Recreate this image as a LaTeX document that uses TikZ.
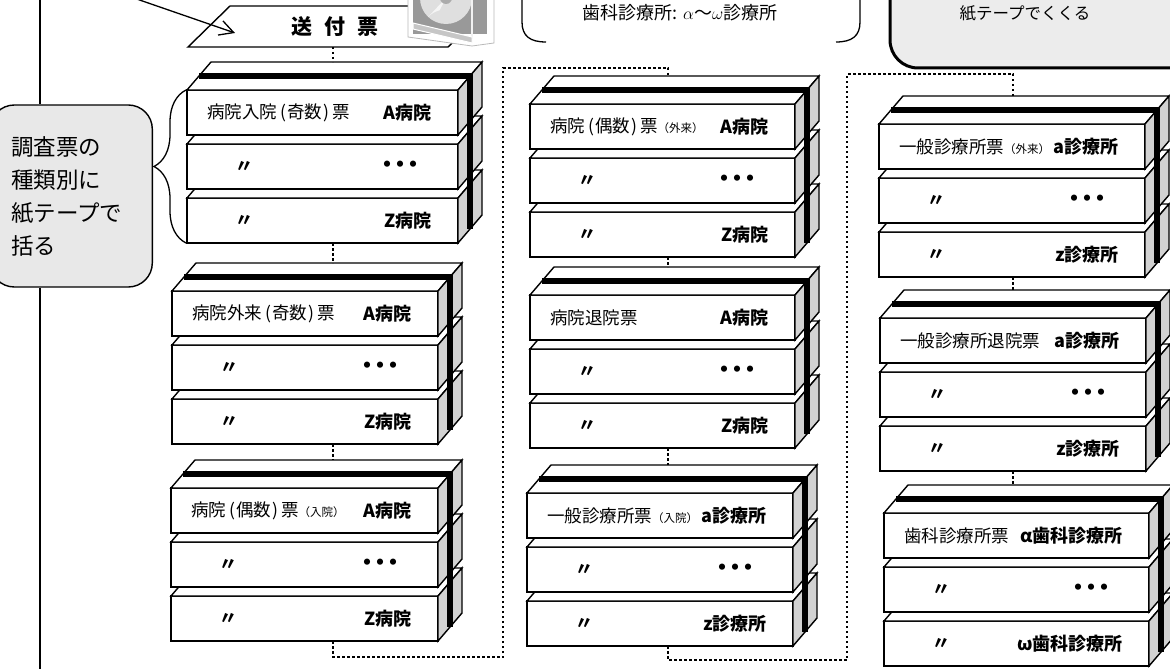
\documentclass[tikz,border=0pt]{standalone}
\usepackage{fontspec}
\setmainfont{Noto Sans CJK JP}
\usetikzlibrary{arrows.meta,decorations.pathreplacing}

\tikzset{
  slabfront/.style={draw, line width=1.4pt, fill=white, minimum height=45pt, inner sep=0pt, outer sep=0pt},
  slabtop/.style={draw, line width=1.4pt, fill=white},
  slabside/.style={draw, line width=1.4pt, fill=gray!35},
  tape/.style={line width=5.5pt},
  sheet/.style={font=\fontsize{17.5}{19}\selectfont, inner sep=0pt},
  hospital/.style={inner sep=0pt, font=\fontsize{18}{19}\selectfont\bfseries},
  hop/.style={line width=2.5pt, dash pattern=on 2.5pt off 2.5pt},
  note/.style={draw, line width=1.4pt, fill=gray!18, rounded corners=24pt},
}

% round brackets inside a sheet name
\newcommand{\br}[1]{\kern3pt(\kern1pt#1\kern1pt)\kern3pt}
% smaller text in brackets after a sheet name
\newcommand{\smallnote}[1]{{\fontsize{11.5}{13}\selectfont （#1）}}

% one slab of a bundle: front face, top face, side face
\newcommand{\slab}[4]{%
  \node[slabfront, minimum width=#4pt, anchor=north west] (#1) at (#2,#3) {};
  \draw[slabtop] (#1.north west) -- ++(24,-28) -- ([shift={(24,-28)}]#1.north east) -- (#1.north east) -- cycle;
  \draw[slabside] (#1.north east) -- ++(24,-28) -- ([shift={(24,-28)}]#1.south east) -- (#1.south east) -- cycle;
}

% three slabs tied with paper tape
% #1 name, #2 left x, #3 top y, #4 width, #5 sheet, #6 first, #7 last
\newcommand{\bundle}[7]{%
  \slab{#1-3}{#2}{#3+108}{#4}
  \slab{#1-2}{#2}{#3+54}{#4}
  \slab{#1-1}{#2}{#3}{#4}
  \draw[tape] ([shift={(12,-14)}]#1-1.north west) -- ([shift={(12,-14)}]#1-1.north east) -- ([shift={(12,-14)}]#1-3.south east);
  \node[sheet, anchor=west] (#1-kind) at ([xshift=20pt]#1-1.west) {#5};
  \node[hospital, anchor=east] (#1-first) at ([xshift=-26pt]#1-1.east) {#6};
  \node[hospital] (#1-same2) at ([xshift=57pt]#1-2.west) {〃};
  \node[hospital] (#1-dots) at ([xshift=-58pt]#1-2.east) {{\fontsize{22}{22}\selectfont ・\kern-9pt・\kern-9pt・}};
  \node[hospital] (#1-same3) at ([xshift=57pt]#1-3.west) {〃};
  \node[hospital, anchor=east] (#1-last) at ([xshift=-26pt]#1-3.east) {#7};
  \coordinate (#1-top) at ([shift={(12,-28)}]#1-1.north);
  \coordinate (#1-bot) at (#1-3.south);
}

\begin{document}
\begin{tikzpicture}[x=1pt, y=-1pt]
    \useasboundingbox (0,0) rectangle (1170,669);

    % hospitals
    \bundle{A}{187}{90}{271}{病院入院\br{奇数}票}{A病院}{Z病院}
    \bundle{B}{172}{291}{266}{病院外来\br{奇数}票}{A病院}{Z病院}
    \bundle{C}{171}{488}{267}{病院\br{偶数}票\smallnote{入院}}{A病院}{Z病院}
    \bundle{D}{530}{104}{265}{病院\br{偶数}票\smallnote{外来}}{A病院}{Z病院}
    \bundle{E}{530}{295}{265}{病院退院票}{A病院}{Z病院}
    % clinics
    \bundle{F}{527}{493}{266}{一般診療所票\smallnote{入院}}{a診療所}{z診療所}
    \bundle{G}{879}{124}{266}{一般診療所票\smallnote{外来}}{a診療所}{z診療所}
    \bundle{H}{880}{318}{266}{一般診療所退院票}{a診療所}{z診療所}
    \bundle{I}{884}{513}{265}{歯科診療所票}{α歯科診療所}{ω歯科診療所}

    % cover sheet
    \draw[line width=1.4pt, fill=white] (188,47) -- (230,6) -- (490,6) -- (448,47) -- cycle;
    \node[font=\fontsize{21}{22}\selectfont\bfseries] (slip) at (335,27) {送\hspace{12pt}付\hspace{12pt}票};
    \coordinate (slip-bot) at (333,47);

    % disc in its case
    \fill[white] (408,-4) -- (408,37) -- (472,46) -- (494,43) -- (494,-4) -- cycle;
    \draw[gray!55, line width=0.8pt] (408,-4) -- (408,37) -- (472,46) -- (494,43) -- (494,-4);
    \fill[gray!80] (413,-4) rectangle (487,34);
    \fill[gray!25] (446,-2) circle (26);
    \fill[gray!8] (446,-2) -- (428,17) arc[start angle=225, end angle=255, radius=26] -- cycle;
    \fill[gray!65] (446,-2) circle (6);
    \draw[gray!10, line width=1.5pt] (472,-4) -- (472,39);
    \draw[white, line width=1pt, fill=gray!45] (413,23) -- (472,37) -- (472,43) -- (413,29) -- cycle;

    % incoming arrow
    \coordinate (feed) at (128,-4);
    \coordinate (feed-end) at (235,33);
    \draw[line width=1.3pt, -{Straight Barb[length=14pt, width=15pt]}] (feed) -- (feed-end);

    % left rail and note
    \node[note, text width=120pt, inner xsep=21pt, minimum height=182pt, align=left,
          font=\fontsize{22.5}{33}\selectfont, anchor=east] (sortnote) at (153,196)
          {調査票の\\種類別に\\紙テープで\\括る};
    \coordinate (rail-top) at (40,-4);
    \coordinate (rail-bot) at (40,673);
    \draw[line width=1.3pt] (rail-top) -- (rail-top |- sortnote.north);
    \draw[line width=1.3pt] (sortnote.south -| rail-top) -- (rail-bot);
    \draw[line width=1.3pt, decorate, decoration={brace, amplitude=32pt}]
        ([xshift=-1pt]A-3.south west) -- ([xshift=-1pt]A-1.north west);

    % labels at the top
    \node[font=\fontsize{18}{20}\selectfont] (dentalnote) at (680,13) {歯科診療所: $\alpha$〜$\omega$診療所};
    \draw[line width=1.3pt] (522,-5) -- (522,22) .. controls (522,36) and (530,42) .. (546,42);
    \draw[line width=1.3pt] (860,-5) -- (860,22) .. controls (860,36) and (852,42) .. (836,42);
    \draw[line width=3pt, fill=gray!15, rounded corners=28pt] (890,-40) rectangle (1230,68);
    \node[font=\fontsize{16.5}{18}\selectfont] (tapenote) at (1025,13) {紙テープでくくる};

    % order of the bundles
    \coordinate (col1) at (333,0);
    \coordinate (col2) at (668,0);
    \coordinate (col3) at (1013,0);
    \coordinate (turn1) at (503,68);
    \coordinate (turn2) at (847,74);
    \draw[hop] (slip-bot) -- (A-top -| col1);
    \draw[hop] (A-bot -| col1) -- (B-top -| col1);
    \draw[hop] (B-bot -| col1) -- (C-top -| col1);
    \draw[hop] (C-bot -| col1) -- ++(0,16) -| (turn1) -| (D-top -| col2);
    \draw[hop] (D-bot -| col2) -- (E-top -| col2);
    \draw[hop] (E-bot -| col2) -- (F-top -| col2);
    \draw[hop] (F-bot -| col2) -- ++(0,14) -| (turn2) -| (G-top -| col3);
    \draw[hop] (G-bot -| col3) -- (H-top -| col3);
    \draw[hop] (H-bot -| col3) -- (I-top -| col3);
\end{tikzpicture}
\end{document}
